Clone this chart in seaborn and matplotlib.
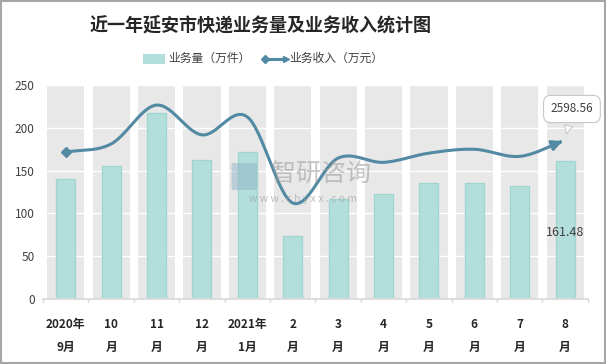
import numpy as np
import pandas as pd
import matplotlib.pyplot as plt
import seaborn as sns
from matplotlib.patches import Rectangle, FancyBboxPatch

# === 数据 ===
meses = ["2020年\n9月", "10\n月", "11\n月", "12\n月", "2021年\n1月", "2\n月",
         "3\n月", "4\n月", "5\n月", "6\n月", "7\n月", "8\n月"]
volumen = [140, 156, 218, 163, 172, 74, 117, 123, 135, 135, 132, 161.48]
ingresos = [2404, 2537, 3174, 2686, 2980, 1570, 2306, 2236, 2387, 2450, 2334, 2598.56]

df = pd.DataFrame({"mes": meses, "volumen": volumen})

sns.set_theme(style="white")
plt.rcParams['font.family'] = ['Noto Sans CJK SC', 'DejaVu Sans']

fig = plt.figure(figsize=(6.06, 3.64), dpi=100)
ax = fig.add_axes([0.071, 0.179, 0.899, 0.587])

# bandas grises por categoría
for i in range(len(meses)):
    ax.axvspan(i - 0.41, i + 0.41, color="#e8e8e8", zorder=0, lw=0)
ax.set_ylim(0, 250)
ax.set_xlim(-0.5, len(meses) - 0.5)
ax.set_yticks(range(0, 251, 50))
for y in range(50, 251, 50):
    ax.axhline(y, color="white", lw=1, zorder=1)

sns.barplot(data=df, x="mes", y="volumen", ax=ax, color="#b2dfdb",
            width=0.42, edgecolor="#a3d5d0", linewidth=1, saturation=1, zorder=2)

ax.set_xlabel("")
ax.set_ylabel("")
for s in ["top", "right", "left"]:
    ax.spines[s].set_visible(False)
ax.spines["bottom"].set_color("#d9d9d9")
ax.tick_params(axis="y", length=0, labelsize=8.5, labelcolor="#404040", pad=6)
ax.tick_params(axis="x", length=0, pad=14)
ax.set_xticks(range(len(meses)))
ax.set_xticklabels(meses, fontsize=8.5, fontweight="bold", color="#262626", linespacing=2.0)
# pequeñas marcas entre categorías
for i in range(len(meses) + 1):
    ax.plot([i - 0.5, i - 0.5], [0, -4], color="#d9d9d9", lw=1, clip_on=False, zorder=3)

ax.text(11, 78, "161.48", ha="center", va="center", fontsize=9, color="#404040", zorder=5)

# === línea suavizada en eje secundario oculto ===
ax2 = ax.twinx()
ax2.set_ylim(0, 3500)
ax2.axis("off")

x = np.arange(len(ingresos), dtype=float)
y = np.array(ingresos, dtype=float)
xs, ys = [], []
for i in range(len(x) - 1):
    p0 = y[i - 1] if i > 0 else y[i]
    p3 = y[i + 2] if i + 2 < len(y) else y[i + 1]
    m1 = (y[i + 1] - p0) / (2 if i > 0 else 1)
    m2 = (p3 - y[i]) / (2 if i + 2 < len(y) else 1)
    t = np.linspace(0, 1, 30)
    h00 = 2 * t**3 - 3 * t**2 + 1
    h10 = t**3 - 2 * t**2 + t
    h01 = -2 * t**3 + 3 * t**2
    h11 = t**3 - t**2
    xs.extend(x[i] + t)
    ys.extend(h00 * y[i] + h10 * m1 + h01 * y[i + 1] + h11 * m2)

color_linea = "#5289a3"

# marca de agua (detrás de la línea)
fig.patches.append(FancyBboxPatch((0.384, 0.48), 0.038, 0.07, transform=fig.transFigure,
                                  boxstyle="round,pad=0.002", fc="#8fb3c6", ec="none", alpha=0.5))
fig.text(0.53, 0.522, "智研咨询", ha="center", va="center", fontsize=18,
         color="#9a9a9a", alpha=0.55)
fig.text(0.5, 0.452, "w w w . c h y x x . c o m", ha="center", va="center",
         fontsize=7.5, color="#9a9a9a", alpha=0.6)

ax2.plot(xs[:-3], ys[:-3], color=color_linea, lw=2.2, zorder=4, solid_capstyle="round")
ax2.plot(x[0], y[0], marker="D", color=color_linea, ms=5, zorder=5)
ax2.annotate("", xy=(x[-1], y[-1]), xytext=(xs[-6], ys[-6]),
             arrowprops=dict(arrowstyle="-|>,head_length=0.5,head_width=0.25",
                             color=color_linea, lw=2.2))

ax2.annotate(f"{ingresos[-1]:.2f}", xy=(x[-1] + 0.02, y[-1] + 60), xytext=(x[-1] + 0.15, 3110),
             ha="center", va="center", fontsize=8.5, color="#404040",
             bbox=dict(boxstyle="round,pad=0.6", fc="white", ec="#c8c8c8", lw=0.8),
             arrowprops=dict(arrowstyle="wedge,tail_width=0.7", fc="white", ec="#c8c8c8", lw=0.8),
             annotation_clip=False, zorder=6)

# título y leyenda
fig.text(0.43, 0.93, "近一年延安市快递业务量及业务收入统计图", ha="center", va="center",
         fontsize=13, fontweight="bold", color="#262626")
fig.patches.append(Rectangle((0.236, 0.825), 0.036, 0.028, transform=fig.transFigure,
                             fc="#b2dfdb", ec="none"))
fig.text(0.277, 0.839, "业务量（万件）", ha="left", va="center", fontsize=8.5, color="#404040")
fig.lines.append(plt.Line2D([0.436, 0.472], [0.839, 0.839], transform=fig.transFigure,
                            color=color_linea, lw=2.2))
fig.lines.append(plt.Line2D([0.438], [0.839], transform=fig.transFigure, marker="D",
                            color=color_linea, ms=4.5))
fig.lines.append(plt.Line2D([0.472], [0.839], transform=fig.transFigure, marker=">",
                            color=color_linea, ms=5))
fig.text(0.478, 0.839, "业务收入（万元）", ha="left", va="center", fontsize=8.5, color="#404040")

# borde exterior
fig.patches.append(Rectangle((0.001, 0.002), 0.997, 0.996, transform=fig.transFigure,
                             fill=False, ec="#a6a6a6", lw=1.5))

plt.savefig("out.png", dpi=100)
